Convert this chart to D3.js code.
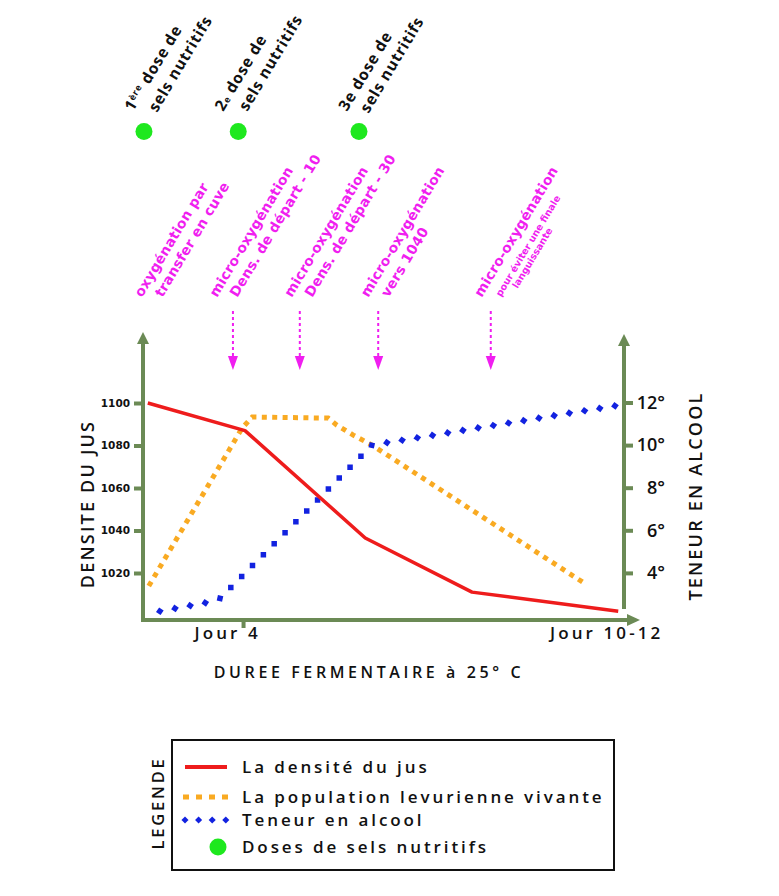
<!DOCTYPE html>
<html><head><meta charset="utf-8">
<script src="https://cdn.jsdelivr.net/npm/d3@7"></script>
<style>body{margin:0;background:#fff}svg{display:block}</style>
</head><body>
<script>
// ---------- DATA ----------
// x is a schematic fermentation-progress scale (0 = start, 100 = end)
const densityT = [1, 21.2, 46.2, 68.4, 98.8];
const densityV = [1100, 1087, 1036.5, 1011, 1002];
const popT = [1.2, 20.6, 22.7, 38.5, 40.3, 43.7, 47.6, 92.3];
const popV = [13.9, 88.2, 93.4, 92.9, 89.6, 84.9, 80.2, 14.4];
const alcT = [3.5, 13.1, 16.0, 47.6, 98.3];
const alcV = [2.2, 2.6, 2.8, 10.0, 11.85];
const densityTicks = [1020, 1040, 1060, 1080, 1100];
const alcoholTicks = [4, 6, 8, 10, 12];
const xTickT = [20.8];
const xLabels = ["Jour 4", "Jour 10-12"];
const xLabelT = [17.6, 96.4];
const doseT = [0.2, 19.8, 44.9];
const doseLine1 = [["1", "ère", " dose de"], ["2", "e", " dose de"], ["3e dose de", "", ""]];
const doseLine2 = ["sels nutritifs", "sels nutritifs", "sels nutritifs"];
const oxyT = [0, 18.7, 32.6, 48.9, 72.3];
const oxyArrow = [false, true, true, true, true];
const oxyLines = [
  ["oxygénation par", "transfer en cuve"],
  ["micro-oxygénation", "Dens. de départ - 10"],
  ["micro-oxygénation", "Dens. de départ - 30"],
  ["micro-oxygénation", "vers 1040"],
  ["micro-oxygénation", "pour éviter une finale", "languissante"]
];
const legendLabels = ["La densité du jus", "La population levurienne vivante", "Teneur en alcool", "Doses de sels nutritifs"];

// ---------- LAYOUT / STYLE ----------
const W = 779, H = 896;
const GREEN = "#6b8a55", RED = "#ee1c1c", ORANGE = "#f9aa22", BLUE = "#1222e0", LIME = "#1ee81e", MAG = "#f01ef0";
const ANG = -59;

const svg = d3.select("body").append("svg").attr("width", W).attr("height", H);

const x = d3.scaleLinear().domain([0, 100]).range([143, 624]);
const yD = d3.scaleLinear().domain([1000, 1100]).range([615.5, 403]);
const yA = d3.scaleLinear().domain([2, 12]).range([615.5, 402.5]);
const yP = d3.scaleLinear().domain([0, 100]).range([615.5, 403]);
const xAxisY = 620;

// ---------- AXES ----------
const axG = svg.append("g");
axG.append("line").attr("x1", x(0)).attr("x2", x(0)).attr("y1", xAxisY + 2).attr("y2", 342)
  .attr("stroke", GREEN).attr("stroke-width", 4);
axG.append("path").attr("d", `M${x(0)-6},344 L${x(0)},332 L${x(0)+6},344 Z`).attr("fill", GREEN);
axG.append("line").attr("x1", x(100)).attr("x2", x(100)).attr("y1", 609).attr("y2", 344)
  .attr("stroke", GREEN).attr("stroke-width", 4);
axG.append("path").attr("d", `M${x(100)-6},346 L${x(100)},334 L${x(100)+6},346 Z`).attr("fill", GREEN);
axG.append("line").attr("x1", x(0) - 2).attr("x2", 628).attr("y1", xAxisY).attr("y2", xAxisY)
  .attr("stroke", GREEN).attr("stroke-width", 4);
axG.append("path").attr("d", `M627,${xAxisY-6} L640,${xAxisY} L627,${xAxisY+6} Z`).attr("fill", GREEN);

const left = svg.append("g").attr("transform", `translate(${x(0)},0)`)
  .call(d3.axisLeft(yD).tickValues(densityTicks).tickSize(9).tickPadding(4).tickFormat(d3.format("d")));
left.select(".domain").remove();
left.selectAll(".tick line").attr("stroke", GREEN).attr("stroke-width", 4);
left.selectAll(".tick text").attr("font-family", "DejaVu Sans").attr("font-weight", "bold")
  .attr("font-size", 10.5).attr("fill", "#111");

const right = svg.append("g").attr("transform", `translate(${x(100)},0)`)
  .call(d3.axisRight(yA).tickValues(alcoholTicks).tickSize(9).tickFormat(d => d + "°"));
right.select(".domain").remove();
right.selectAll(".tick line").attr("stroke", GREEN).attr("stroke-width", 4);
right.selectAll(".tick text").attr("font-family", "Open Sans").attr("font-weight", 600).attr("font-size", 18)
  .attr("text-anchor", "end").attr("x", 41).attr("fill", "#111");

const bottom = svg.append("g").attr("transform", `translate(0,${xAxisY})`)
  .call(d3.axisBottom(x).tickValues(xTickT).tickSize(8).tickFormat(""));
bottom.select(".domain").remove();
bottom.selectAll(".tick line").attr("stroke", GREEN).attr("stroke-width", 4);

svg.append("g").selectAll("text").data(xLabels).join("text")
  .attr("x", (d, i) => x(xLabelT[i])).attr("y", 639)
  .attr("text-anchor", "middle").attr("font-family", "Open Sans").attr("font-weight", 600).attr("font-size", 17)
  .attr("letter-spacing", 3.1).attr("fill", "#111").text(d => d);

svg.append("text").attr("x", 369).attr("y", 678).attr("text-anchor", "middle")
  .attr("font-family", "Open Sans").attr("font-weight", 600).attr("font-size", 16).attr("letter-spacing", 3.6)
  .attr("fill", "#111").text("DUREE FERMENTAIRE à 25° C");
svg.append("text").attr("transform", "translate(94,504) rotate(-90)").attr("text-anchor", "middle")
  .attr("font-family", "Open Sans").attr("font-weight", 600).attr("font-size", 18).attr("letter-spacing", 2.2)
  .attr("fill", "#111").text("DENSITE DU JUS");
svg.append("text").attr("transform", "translate(702,496) rotate(-90)").attr("text-anchor", "middle")
  .attr("font-family", "Open Sans").attr("font-weight", 600).attr("font-size", 18).attr("letter-spacing", 2.2)
  .attr("fill", "#111").text("TENEUR EN ALCOOL");

// ---------- SERIES ----------
function rectsAlong(g, d, spacing, size, color, rot) {
  const p = g.append("path").attr("d", d).attr("fill", "none");
  const node = p.node(), L = node.getTotalLength();
  for (let s = 0; s <= L + 0.01; s += spacing) {
    const a = node.getPointAtLength(Math.max(0, s - 1)), b = node.getPointAtLength(Math.min(L, s + 1));
    const pt = node.getPointAtLength(s);
    const ang = Math.atan2(b.y - a.y, b.x - a.x) * 180 / Math.PI;
    g.append("rect").attr("x", -size / 2).attr("y", -size / 2).attr("width", size).attr("height", size)
      .attr("fill", color).attr("transform", `translate(${pt.x},${pt.y}) rotate(${ang + rot})`);
  }
  p.remove();
}

const line = d3.line();
const popPts = popT.map((t, i) => [x(t), yP(popV[i])]);
svg.append("path").attr("d", line(popPts)).attr("fill", "none").attr("stroke", ORANGE)
  .attr("stroke-width", 5).attr("stroke-dasharray", "5,5.4");

const alcPts = alcT.map((t, i) => [x(t), yA(alcV[i])]);
rectsAlong(svg.append("g"), line(alcPts), 15.4, 5.5, BLUE, 45);

const denPts = densityT.map((t, i) => [x(t), yD(densityV[i])]);
svg.append("path").attr("d", line(denPts)).attr("fill", "none").attr("stroke", RED)
  .attr("stroke-width", 3.5).attr("stroke-linejoin", "round");

// ---------- ANNOTATIONS: micro-oxygenation ----------
const oxyDx = [-1, -16, -8, -10, -9];
oxyT.forEach((t, i) => {
  const ax = x(t);
  if (oxyArrow[i]) {
    svg.append("line").attr("x1", ax).attr("x2", ax).attr("y1", 311).attr("y2", 358)
      .attr("stroke", MAG).attr("stroke-width", 2).attr("stroke-dasharray", "3,3");
    svg.append("path").attr("d", `M${ax-5},356 L${ax+5},356 L${ax},370 Z`).attr("fill", MAG);
  }
  const g = svg.append("g").attr("transform", `translate(${ax + oxyDx[i]},298) rotate(${ANG})`)
    .attr("font-family", "DejaVu Sans").attr("font-weight", "bold").attr("fill", MAG);
  oxyLines[i].forEach((txt, j) => {
    const small = i === 4 && j > 0;
    g.append("text").attr("x", j === 0 ? 0 : (j === 1 ? 10.5 : 26))
      .attr("y", j === 0 ? 0 : (j === 1 ? (small ? 16 : 17.5) : 26))
      .attr("font-size", small ? 9.5 : 13.8).attr("letter-spacing", small ? 0 : 0.2).text(txt);
  });
});

// ---------- DOSES ----------
const doseDx = [-11, -15, -12];
const doseL2 = [[11.5, 21], [12.4, 20.6], [9.5, 19.5]];
doseT.forEach((t, i) => {
  const cx = x(t);
  svg.append("circle").attr("cx", cx).attr("cy", 131.5).attr("r", 8.5).attr("fill", LIME);
  const g = svg.append("g").attr("transform", `translate(${cx + doseDx[i]},112) rotate(${ANG})`)
    .attr("font-family", "Open Sans").attr("font-weight", 700).attr("fill", "#111")
    .attr("font-size", 15.5).attr("letter-spacing", 0.8);
  const t1 = g.append("text").attr("x", 0).attr("y", 0);
  const [a, b, c] = doseLine1[i];
  t1.append("tspan").text(a);
  if (b) {
    const sup = i === 0;
    t1.append("tspan").attr("font-size", 9).attr("dy", sup ? -5 : 0).text(b);
    t1.append("tspan").attr("dy", sup ? 5 : 0).text(c);
  }
  g.append("text").attr("x", doseL2[i][0]).attr("y", doseL2[i][1]).text(doseLine2[i]);
});

// ---------- LEGEND ----------
const lg = svg.append("g");
lg.append("rect").attr("x", 172).attr("y", 740).attr("width", 442).attr("height", 130)
  .attr("fill", "none").attr("stroke", "#111").attr("stroke-width", 2);
lg.append("text").attr("transform", "translate(164,803) rotate(-90)").attr("text-anchor", "middle")
  .attr("font-family", "Open Sans").attr("font-weight", 600).attr("font-size", 16.5).attr("letter-spacing", 2.8)
  .attr("fill", "#111").text("LEGENDE");
const rowY = [767, 797, 820, 847];
lg.append("line").attr("x1", 185).attr("x2", 227).attr("y1", rowY[0]).attr("y2", rowY[0])
  .attr("stroke", RED).attr("stroke-width", 4);
lg.append("line").attr("x1", 183).attr("x2", 228).attr("y1", rowY[1]).attr("y2", rowY[1])
  .attr("stroke", ORANGE).attr("stroke-width", 5).attr("stroke-dasharray", "6,7");
rectsAlong(lg, `M185,${rowY[2]} L226,${rowY[2]}`, 13.6, 5, BLUE, 45);
lg.append("circle").attr("cx", 218).attr("cy", rowY[3]).attr("r", 8.5).attr("fill", LIME);
lg.selectAll("text.item").data(legendLabels).join("text").attr("class", "item")
  .attr("x", 242).attr("y", (d, i) => rowY[i] + 6)
  .attr("font-family", "Open Sans").attr("font-weight", 600).attr("font-size", 17).attr("letter-spacing", 2.9)
  .attr("fill", "#111").text(d => d);
</script>
</body></html>
